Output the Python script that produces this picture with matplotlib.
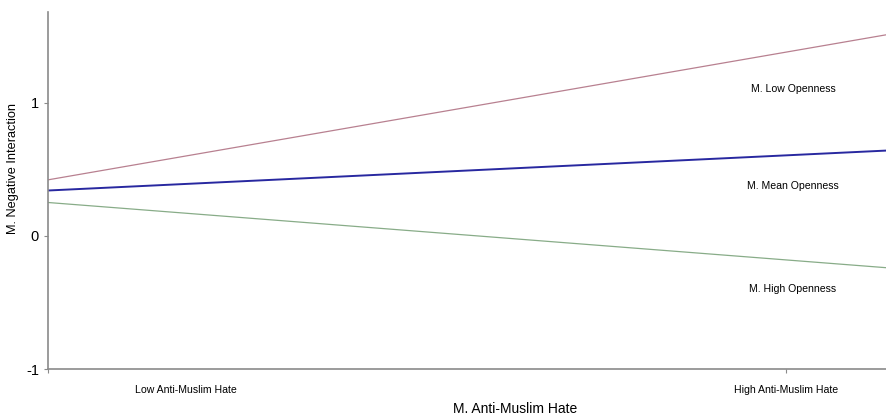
import numpy as np
import matplotlib.pyplot as plt

plt.rcParams['font.family'] = ['Liberation Sans', 'DejaVu Sans']

# simple slopes: predicted M. Negative Interaction at the two ends of the x range
x_ends = [0.0, 1.0]
low_open = [0.42, 1.51]
mean_open = [0.34, 0.64]
high_open = [0.25, -0.24]

series_names = ['M. Low Openness', 'M. Mean Openness', 'M. High Openness']
label_y = [1.105, 0.376, -0.40]
x_tick_pos = [0.164, 0.88]
x_tick_labels = ['Low Anti-Muslim Hate', 'High Anti-Muslim Hate']
y_ticks = [-1, 0, 1]

W, H = 887, 417
fig = plt.figure(figsize=(W / 100, H / 100), dpi=100)
ax = fig.add_axes([0.0541, 0.1151, 0.9459, 0.8561])

ax.plot(x_ends, low_open, color='#b88090', lw=0.9)
ax.plot(x_ends, mean_open, color='#2828a0', lw=1.4)
ax.plot(x_ends, high_open, color='#88ac88', lw=0.9)

for name, yy in zip(series_names, label_y):
    ax.text(0.888, yy, name, fontsize=7.6, ha='center', va='center')

ax.set_xlim(0, 1)
ax.set_ylim(-1, 1.68)
ax.set_yticks(y_ticks)
ax.set_yticklabels([str(v) for v in y_ticks], fontsize=10.5)
ax.set_xticks([0.0, 0.88])
ax.set_xticklabels(['', ''])
for xp, lab in zip(x_tick_pos, x_tick_labels):
    ax.text(xp, -1.16, lab, fontsize=7.6, ha='center', va='center')

# axis titles placed in figure pixels so they stay inside the canvas
fig.text(13 / W, 1 - 169 / H, 'M. Negative Interaction', fontsize=9.2,
         rotation=90, ha='center', va='center')
fig.text(515 / W, 1 - 409 / H, 'M. Anti-Muslim Hate', fontsize=10,
         ha='center', va='center')

for s in ['top', 'right']:
    ax.spines[s].set_visible(False)
for s in ['left', 'bottom']:
    ax.spines[s].set_color('#8a8a8a')
    ax.spines[s].set_linewidth(1.2)
ax.tick_params(axis='both', colors='#8a8a8a', length=3, labelcolor='black')

fig.savefig('out.png', dpi=100, facecolor='w')
